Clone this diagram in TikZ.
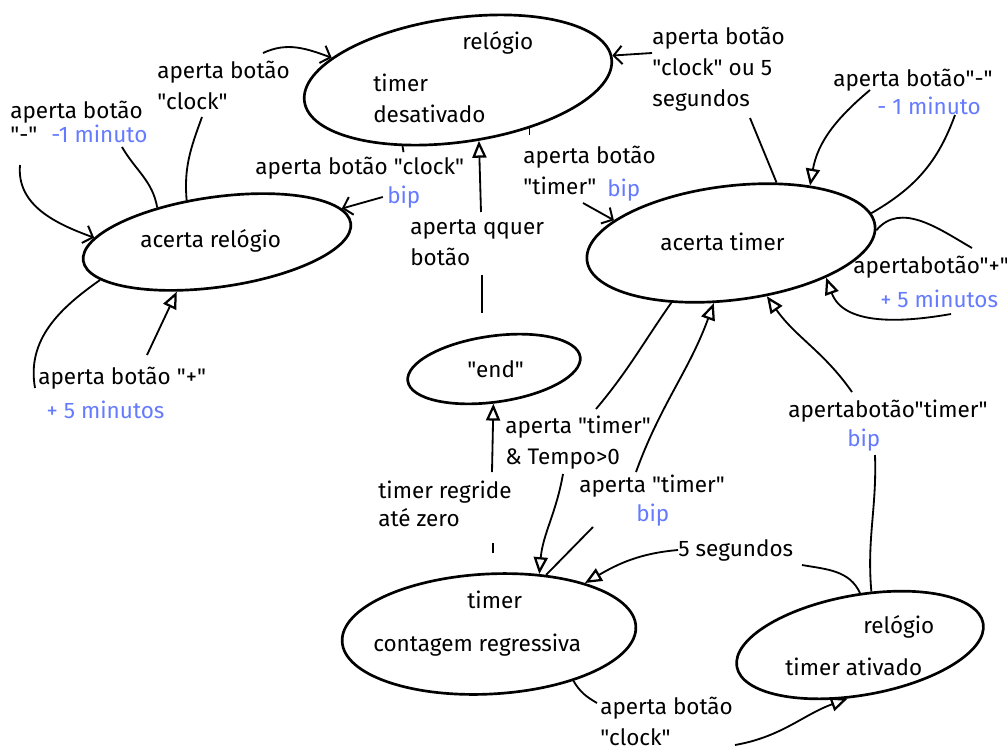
\documentclass[tikz,border=0pt]{standalone}
\usepackage{fontspec}
\setmainfont{Fira Sans}[Ligatures=TeXOff]
\usetikzlibrary{arrows.meta,shapes.geometric}
\definecolor{bipblue}{RGB}{100,122,255}
\tikzset{
  state/.style={draw, ellipse, line width=1.9pt, inner sep=0pt},
  txt/.style={inner sep=0pt, anchor=west},
  lbl/.style={inner sep=0pt, anchor=north west, align=left},
  bip/.style={txt, text=bipblue},
  edge/.style={line width=1.3pt},
  hollow/.style={edge, -{Triangle[open, length=12pt, width=10pt, line width=1.6pt]}},
  barb/.style={edge, -{Straight Barb[length=6pt, width=13pt, line width=1.4pt]}},
}
\begin{document}
\begin{tikzpicture}[x=0.025cm, y=-0.025cm, font=\fontsize{16}{22}\selectfont]
\useasboundingbox (0,0) rectangle (1007,751);

% states
\node[state, rotate=8, minimum width=7.75cm, minimum height=3.1cm] (desat) at (458,80) {};
\node[state, rotate=8, minimum width=6.75cm, minimum height=2.25cm] (acrel) at (217,242) {};
\node[state, rotate=7, minimum width=7.25cm, minimum height=2.85cm] (actim) at (731,243) {};
\node[state, rotate=8, minimum width=4.35cm, minimum height=1.65cm] (endst) at (494,369) {};
\node[state, rotate=3, minimum width=7.35cm, minimum height=3cm] (contag) at (489,634) {};
\node[state, rotate=10, minimum width=6.25cm, minimum height=2.5cm] (ativ) at (860,645) {};

% texts in the states
\node[txt] (tdrel) at (462,43) {relógio};
\node[txt] (tdtim) at (373,83) {timer};
\node[txt] (tddes) at (373,114) {desativado};
\node[txt] (tarel) at (140,241) {acerta relógio};
\node[txt] (tatim) at (660,242) {acerta timer};
\node[txt] (tend) at (467,369) {"end"};
\node[txt] (tctim) at (467,600) {timer};
\node[txt] (tccon) at (373,645) {contagem regressiva};
\node[txt] (tvrel) at (863,627) {relógio};
\node[txt] (tvtim) at (785,667) {timer ativado};

% transition labels
\node[lbl] (lclock) at (157,61) {aperta botão\\"clock"};
\node[lbl] (lminus) at (10,101) {aperta botão\\[-5pt]"-"\hspace{10pt}\textcolor{bipblue}{-1 minuto}};
\node[lbl] (lplus) at (38,367) {aperta botão "+"\\[2pt]\hspace{6pt}\textcolor{bipblue}{+ 5 minutos}};
\node[txt] (ldclock) at (255,168) {aperta botão "clock"};
\node[bip] (ldclockbip) at (387,197) {bip};
\node[lbl] (lqquer) at (410,219) {aperta qquer\\botão};
\node[lbl] (ltimer) at (523,146) {aperta botão\\"timer"};
\node[bip] (ltimerbip) at (607,190) {bip};
\node[lbl] (lclock5) at (652,27) {aperta botão\\"clock" ou 5\\segundos};
\node[txt] (lminusT) at (833,80) {aperta botão"-"};
\node[bip] (lminusTbip) at (877,106) {- 1 minuto};
\node[txt] (lplusT) at (853,267) {apertabotão"+"};
\node[bip] (lplusTbip) at (880,299) {+ 5 minutos};
\node[lbl] (lend) at (505,416) {aperta "timer"\\\& Tempo>0};
\node[lbl] (lregride) at (378,481) {timer regride\\[-2pt]até zero};
\node[txt] (lback) at (579,486) {aperta "timer"};
\node[bip] (lbackbip) at (636,515) {bip};
\node[txt] (lativT) at (788,411) {apertabotão"timer"};
\node[bip] (lativTbip) at (847,440) {bip};
\node[txt] (l5seg) at (678,550) {5 segundos};
\node[lbl] (lcclock) at (600,697) {aperta botão\\"clock"};

% free ends of the broken connectors
\coordinate (c1) at (202,117);
\coordinate (c2) at (263,53);
\coordinate (c3) at (122,147);
\coordinate (c4) at (20,165);
\coordinate (c5) at (35,388);
\coordinate (c6) at (147,355);
\coordinate (c7) at (482,313);
\coordinate (c8) at (482,275);
\coordinate (c9) at (481,212);
\coordinate (c10) at (583,203);
\coordinate (c11) at (750,118);
\coordinate (c12) at (652,53);
\coordinate (c13) at (955,115);
\coordinate (c14) at (870,90);
\coordinate (c15) at (951,314);
\coordinate (c16) at (596,409);
\coordinate (c17) at (563,474);
\coordinate (c18) at (593,527);
\coordinate (c19) at (636,472);
\coordinate (c20) at (493,543);
\coordinate (c21) at (492,472);
\coordinate (c22) at (875,455);
\coordinate (c23) at (852,392);
\coordinate (c24) at (802,565);
\coordinate (c25) at (597,703);
\coordinate (c26) at (735,745);
\coordinate (c27) at (972,248);

% acerta relogio
\draw[edge] (acrel.118) to[out=95,in=-110] (c1);
\draw[barb] (c2) to[out=25,in=160] (desat.162);
\draw[edge] (acrel.142) to[out=100,in=-60] (c3);
\draw[barb] (c4) to[out=-95,in=160] (acrel.170);
\draw[edge] (acrel.190) to[out=215,in=100] (c5);
\draw[hollow] (c6) -- (acrel.223);
\draw[edge] (desat.222) -- ++(1,6);
\draw[barb] ([xshift=-3pt]ldclockbip.west) -- (acrel.7);

% end
\draw[edge] (c7) -- (c8);
\draw[hollow] (c9) -- (desat.281);
\draw[edge] (c20) -- ++(0,10);
\draw[hollow] (c21) -- (endst.261);

% acerta timer
\draw[edge] (desat.318) -- ++(0,7);
\draw[barb] (c10) -- (actim.162);
\draw[edge] (actim.46) -- (c11);
\draw[barb] (c12) -- (desat.1);
\draw[edge] (actim.5) to[out=30,in=-110] (c13);
\draw[hollow] (c14) to[out=220,in=80] (actim.29);
\draw[edge] (actim.358) to[out=50,in=150] (c27);
\draw[hollow] (c15) to[out=190,in=-70] (actim.333);

% contagem regressiva
\draw[edge] (actim.218) to[out=235,in=50] (c16);
\draw[hollow] (c17) to[out=-100,in=85] (contag.47);
\draw[edge] (contag.43) -- (c18);
\draw[hollow] (c19) to[out=70,in=-110] (actim.247);
\draw[edge] (contag.328) to[out=-60,in=150] (c25);
\draw[hollow] (c26) to[out=10,in=200] (ativ.247);

% timer ativado
\draw[edge] (ativ.68) to[out=95,in=-88] (c22);
\draw[hollow] (c23) to[out=125,in=-55] (actim.297);
\draw[edge] (ativ.80) to[out=115,in=-10] (c24);
\draw[hollow] (l5seg.west) to[out=185,in=30] (contag.25);
\end{tikzpicture}
\end{document}
